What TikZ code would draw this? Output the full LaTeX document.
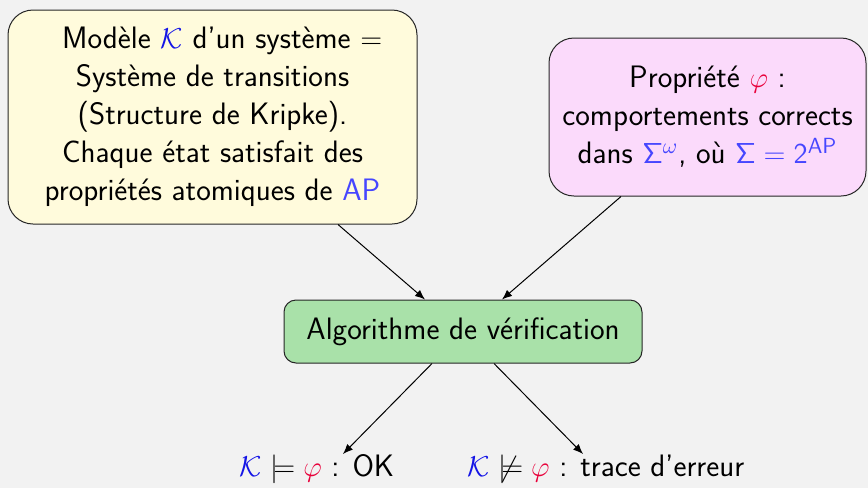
\documentclass[tikz,border=0pt]{standalone}
\renewcommand{\familydefault}{\sfdefault}
\usepackage{amssymb}
\usetikzlibrary{arrows.meta}
\definecolor{bg}{RGB}{242,242,242}
\definecolor{yel}{RGB}{255,251,220}
\definecolor{pnk}{RGB}{251,218,251}
\definecolor{grn}{RGB}{169,225,169}
\definecolor{kblue}{RGB}{20,20,230}
\definecolor{lblue}{RGB}{70,70,255}
\definecolor{phired}{RGB}{232,0,58}
\newcommand{\Kc}{\textcolor{kblue}{\mathcal{K}}}
\newcommand{\ph}{\textcolor{phired}{\varphi}}
\begin{document}
\begin{tikzpicture}[x=0.5pt,y=-0.5pt,
  every node/.style={font=\sffamily\fontsize{15.5}{19}\selectfont, inner sep=0pt},
  bigbox/.style={draw=black!85, line width=0.5pt, rounded corners=12.5pt, align=center},
  algbox/.style={draw=black!85, line width=0.5pt, rounded corners=6pt, align=center},
  arr/.style={line width=0.5pt, -{Latex[length=5pt,width=4pt]}}]
\fill[bg] (0,0) rectangle (868,488);
\useasboundingbox (0,0) rectangle (868,488);
\node[bigbox, fill=yel, minimum width=204.5pt, minimum height=107pt] (L) at (212.5,117)
  {\ \ Modèle $\Kc$ d'un système $=$\\ Système de transitions\\ (Structure de Kripke).\\ Chaque état satisfait des\\ propriétés atomiques de \textcolor{lblue}{AP}};
\node[bigbox, fill=pnk, minimum width=158.5pt, minimum height=79pt] (R) at (707.5,117)
  {Propriété $\ph$ :\\ comportements corrects\\ dans $\textcolor{lblue}{\mathsf{\Sigma}^\omega}$, où $\textcolor{lblue}{\mathsf{\Sigma} = \mathsf{2}^{\mathsf{AP}}}$};
\node[algbox, fill=grn, minimum width=179pt, minimum height=31.5pt] (A) at (463,331.5)
  {Algorithme de vérification};
\node[anchor=north] (ok) at (317,454) {$\Kc \models \ph$~: OK};
\node[anchor=north] (ko) at (606,454) {$\Kc \not\models \ph$~: trace d'erreur};
\draw[arr] ([xshift=62.75pt]L.south) -- ([xshift=-19pt]A.north);
\draw[arr] ([xshift=-43.25pt]R.south) -- ([xshift=19.5pt]A.north);
\draw[arr] ([xshift=-15.5pt]A.south) -- ([xshift=13pt]ok.north);
\draw[arr] ([xshift=15.5pt]A.south) -- ([xshift=-11.5pt]ko.north);
\end{tikzpicture}
\end{document}
